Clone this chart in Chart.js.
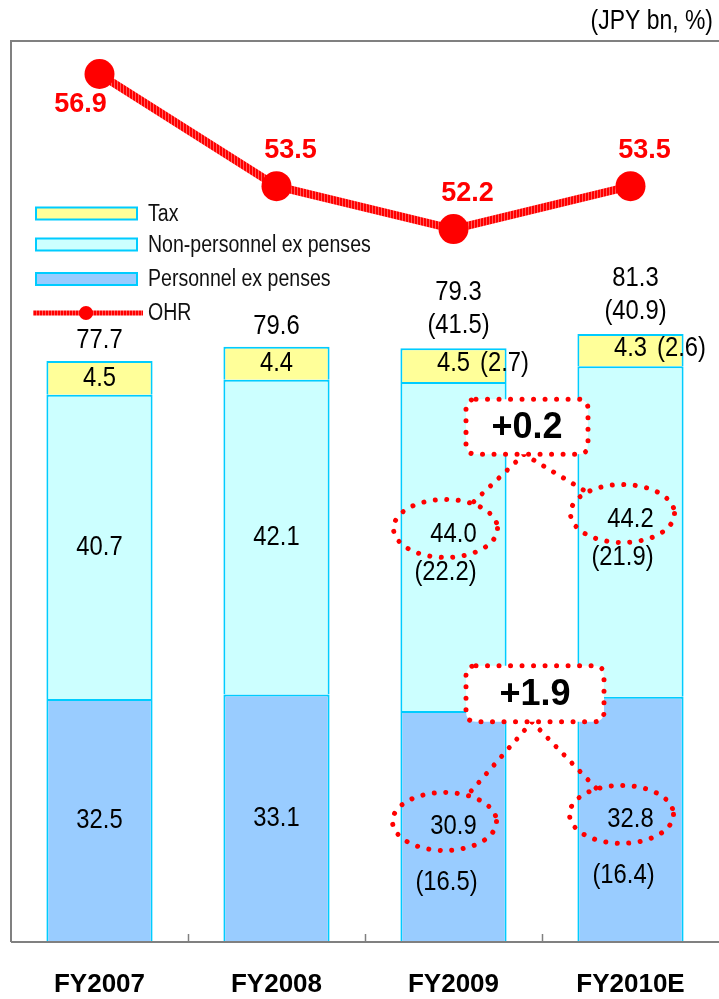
<!DOCTYPE html>
<html><head><meta charset="utf-8">
<script src="https://cdn.jsdelivr.net/npm/chart.js@4/dist/chart.umd.min.js"></script>
<style>html,body{margin:0;padding:0;background:#fff;}#wrap{width:719px;height:999px;}</style>
</head><body><div id="wrap"><canvas id="c" width="719" height="999"></canvas></div>
<script>
const categories = ['FY2007', 'FY2008', 'FY2009', 'FY2010E'];
const personnel = [32.5, 33.1, 30.9, 32.8];
const nonPersonnel = [40.7, 42.1, 44.0, 44.2];
const tax = [4.5, 4.4, 4.5, 4.3];
const totals = [77.7, 79.6, 79.3, 81.3];
const ohr = [56.9, 53.5, 52.2, 53.5];
const personnelH1 = [null, null, 16.5, 16.4];
const nonPersonnelH1 = [null, null, 22.2, 21.9];
const taxH1 = [null, null, 2.7, 2.6];
const totalsH1 = [null, null, 41.5, 40.9];
const changeNonPersonnel = '+0.2';
const changePersonnel = '+1.9';
const seriesLabels = ['Personnel ex penses', 'Non-personnel ex penses', 'Tax', 'OHR'];
const unitLabel = '(JPY bn, %)';

const FONT = "'Liberation Sans', Arial, sans-serif";
const NARROW = 0.85;

function makeHatch(){
  const c = document.createElement('canvas'); c.width = 3; c.height = 3;
  const g = c.getContext('2d');
  g.fillStyle = '#FF0000'; g.fillRect(0,0,3,3);
  g.fillStyle = '#FF5A5A'; g.fillRect(0,0,1,3);
  return g.createPattern(c, 'repeat');
}
const hatch = makeHatch();

function txt(ctx, s, x, y, size, opts){
  opts = opts || {};
  ctx.save();
  ctx.translate(x, y);
  ctx.scale(opts.sx || NARROW, 1);
  ctx.font = (opts.bold ? 'bold ' : '') + size + 'px ' + FONT;
  ctx.fillStyle = opts.color || '#000';
  ctx.textAlign = opts.align || 'center';
  ctx.textBaseline = 'middle';
  ctx.fillText(s, 0, 0);
  ctx.restore();
}
function dotted(ctx){
  ctx.strokeStyle = '#FF0000';
  ctx.lineWidth = 5;
  ctx.lineCap = 'round';
  ctx.setLineDash([0.01, 11.5]);
}
function ellipseEdge(cx, cy, rx, ry, tx, ty){
  const dx = tx - cx, dy = ty - cy;
  const t = 1 / Math.sqrt((dx/rx)*(dx/rx) + (dy/ry)*(dy/ry));
  return [cx + dx*t, cy + dy*t];
}
function roundRect(ctx, x, y, w, h, r){
  ctx.beginPath();
  ctx.moveTo(x+r, y); ctx.lineTo(x+w-r, y); ctx.quadraticCurveTo(x+w, y, x+w, y+r);
  ctx.lineTo(x+w, y+h-r); ctx.quadraticCurveTo(x+w, y+h, x+w-r, y+h);
  ctx.lineTo(x+r, y+h); ctx.quadraticCurveTo(x, y+h, x, y+h-r);
  ctx.lineTo(x, y+r); ctx.quadraticCurveTo(x, y, x+r, y);
  ctx.closePath();
}

const framePlugin = {
  id: 'frame',
  beforeDatasetsDraw(chart){
    const {ctx, chartArea:a} = chart;
    ctx.save();
    ctx.strokeStyle = '#808080'; ctx.lineWidth = 2;
    ctx.beginPath();
    ctx.moveTo(a.left, a.bottom); ctx.lineTo(a.left, a.top); ctx.lineTo(a.right, a.top);
    ctx.stroke();
    ctx.restore();
  },
  afterDatasetsDraw(chart){
    const {ctx, chartArea:a, scales} = chart;
    const xs = scales.x;
    ctx.save();
    ctx.strokeStyle = '#808080'; ctx.lineWidth = 2;
    ctx.beginPath(); ctx.moveTo(a.left, a.bottom); ctx.lineTo(a.right, a.bottom); ctx.stroke();
    ctx.lineWidth = 1.5;
    for (let i = 1; i < categories.length; i++){
      const x = Math.round((xs.getPixelForValue(i-1) + xs.getPixelForValue(i)) / 2) + 0.5;
      ctx.beginPath(); ctx.moveTo(x, a.bottom); ctx.lineTo(x, a.bottom - 8); ctx.stroke();
    }
    ctx.restore();
    txt(ctx, unitLabel, 713, 22, 27, {align:'right'});
  }
};

const labelPlugin = {
  id: 'labels',
  afterDatasetsDraw(chart){
    const ctx = chart.ctx;
    const mP = chart.getDatasetMeta(0), mN = chart.getDatasetMeta(1), mT = chart.getDatasetMeta(2), mL = chart.getDatasetMeta(3);
    const S = 28;
    const ell = {n:[], p:[]};
    for (let j = 0; j < categories.length; j++){
      const bp = mP.data[j], bn = mN.data[j], bt = mT.data[j];
      const cx = bp.x;
      const midP = (bp.y + bp.base)/2, midN = (bn.y + bn.base)/2, midT = (bt.y + bt.base)/2;
      if (personnelH1[j] != null){
        txt(ctx, personnel[j].toFixed(1), cx, midP, S);
        txt(ctx, '(' + personnelH1[j].toFixed(1) + ')', cx - 7, midP + 56, S);
        ell.p.push([cx - 9, midP - 5]);
      } else txt(ctx, personnel[j].toFixed(1), cx, midP, S);
      if (nonPersonnelH1[j] != null){
        txt(ctx, nonPersonnel[j].toFixed(1), cx, midN - 12, S);
        txt(ctx, '(' + nonPersonnelH1[j].toFixed(1) + ')', cx - 8, midN + 26, S);
        ell.n.push([cx - 8, midN - 18]);
      } else txt(ctx, nonPersonnel[j].toFixed(1), cx, midN, S);
      if (taxH1[j] != null){
        txt(ctx, tax[j].toFixed(1), cx, midT - 2, S);
        txt(ctx, '(' + taxH1[j].toFixed(1) + ')', cx + 51, midT - 2, S);
      } else txt(ctx, tax[j].toFixed(1), cx, midT, S);
      if (totalsH1[j] != null){
        txt(ctx, totals[j].toFixed(1), cx + 5, bt.y - 56, S);
        txt(ctx, '(' + totalsH1[j].toFixed(1) + ')', cx + 5, bt.y - 23, S);
      } else txt(ctx, totals[j].toFixed(1), cx, bt.y - 21, S);
      const pt = mL.data[j];
      if (j === 0) txt(ctx, ohr[j].toFixed(1), pt.x - 19, pt.y + 31, 27, {bold:true, color:'#FF0000', sx:1});
      else txt(ctx, ohr[j].toFixed(1), pt.x + 14, pt.y - 36, 27, {bold:true, color:'#FF0000', sx:1});
    }
    const RX = 52, RY = 29;
    const drawCallout = (pair, label, bx, by, bw, bh) => {
      ctx.save();
      dotted(ctx);
      const apex = [bx + bw/2 - 3, by + bh];
      pair.forEach(c => {
        ctx.beginPath(); ctx.ellipse(c[0], c[1], RX, RY, 0, 0, Math.PI*2); ctx.stroke();
        const e = ellipseEdge(c[0], c[1], RX, RY, apex[0], apex[1]);
        ctx.beginPath(); ctx.moveTo(apex[0], apex[1]); ctx.lineTo(e[0], e[1]); ctx.stroke();
      });
      ctx.setLineDash([]);
      ctx.fillStyle = '#fff';
      roundRect(ctx, bx, by, bw, bh, 10); ctx.fill();
      dotted(ctx);
      roundRect(ctx, bx, by, bw, bh, 10); ctx.stroke();
      ctx.restore();
      txt(ctx, label, bx + bw/2, by + bh/2 + 1, 36, {bold:true, sx:1});
    };
    const xs = chart.scales.x;
    const mid = (xs.getPixelForValue(2) + xs.getPixelForValue(3)) / 2;
    const nTop = Math.min(mN.data[2].y, mN.data[3].y);
    drawCallout(ell.n, changeNonPersonnel, mid - 76, nTop + 33, 122, 55);
    const pTop = Math.min(mP.data[2].y, mP.data[3].y);
    drawCallout(ell.p, changePersonnel, mid - 76, pTop - 31, 138, 56);

    const items = [
      {ds: chart.data.datasets[2], y: 213.5},
      {ds: chart.data.datasets[1], y: 244.5},
      {ds: chart.data.datasets[0], y: 279},
      {ds: chart.data.datasets[3], y: 313, line: true}
    ];
    items.forEach(it => {
      ctx.save();
      if (it.line){
        ctx.strokeStyle = hatch; ctx.lineWidth = 5;
        ctx.beginPath(); ctx.moveTo(33, it.y); ctx.lineTo(143, it.y); ctx.stroke();
        ctx.fillStyle = '#FF0000';
        ctx.beginPath(); ctx.arc(86, it.y, 7, 0, Math.PI*2); ctx.fill();
      } else {
        ctx.fillStyle = it.ds.backgroundColor;
        ctx.fillRect(36, it.y - 6, 101, 12);
        ctx.strokeStyle = it.ds.borderColor; ctx.lineWidth = 2;
        ctx.strokeRect(36, it.y - 6, 101, 12);
      }
      ctx.restore();
      txt(ctx, it.ds.label, 148, it.y + 1, 23, {align:'left', color:'#111'});
    });
  }
};

const barCommon = { borderColor: '#00CCFF', borderWidth: 2, borderSkipped: 'bottom', barPercentage: 0.6, categoryPercentage: 1.0, order: 2, yAxisID: 'y', stack: 's' };

new Chart(document.getElementById('c'), {
  data: {
    labels: categories,
    datasets: [
      Object.assign({type:'bar', label: seriesLabels[0], data: personnel, backgroundColor: '#99CCFF'}, barCommon),
      Object.assign({type:'bar', label: seriesLabels[1], data: nonPersonnel, backgroundColor: '#CCFFFF'}, barCommon),
      Object.assign({type:'bar', label: seriesLabels[2], data: tax, backgroundColor: '#FFFF99'}, barCommon),
      {type:'line', label: seriesLabels[3], data: ohr, yAxisID: 'y1', borderColor: hatch, borderWidth: 8,
       pointRadius: 15, pointHoverRadius: 15, pointBackgroundColor: '#FF0000', pointBorderWidth: 0, tension: 0, order: 0, clip: false}
    ]
  },
  options: {
    responsive: false,
    animation: false,
    devicePixelRatio: 1,
    layout: { autoPadding: false, padding: { left: 11, top: 41, right: 0, bottom: 0 } },
    plugins: { legend: { display: false }, tooltip: { enabled: false } },
    scales: {
      x: {
        stacked: true,
        offset: true,
        grid: { display: false, drawTicks: false },
        border: { display: false },
        ticks: { color: '#000', padding: 0, font: { family: FONT, size: 26, weight: 'bold', lineHeight: 3.3 } },
        afterFit: s => { s.height = 57; s.paddingLeft = 0; s.paddingRight = 0; }
      },
      y: { stacked: true, min: 0, max: 120.5, display: false },
      y1: { min: 30.6, max: 57.9, display: false }
    }
  },
  plugins: [framePlugin, labelPlugin]
});
</script>
</body></html>
